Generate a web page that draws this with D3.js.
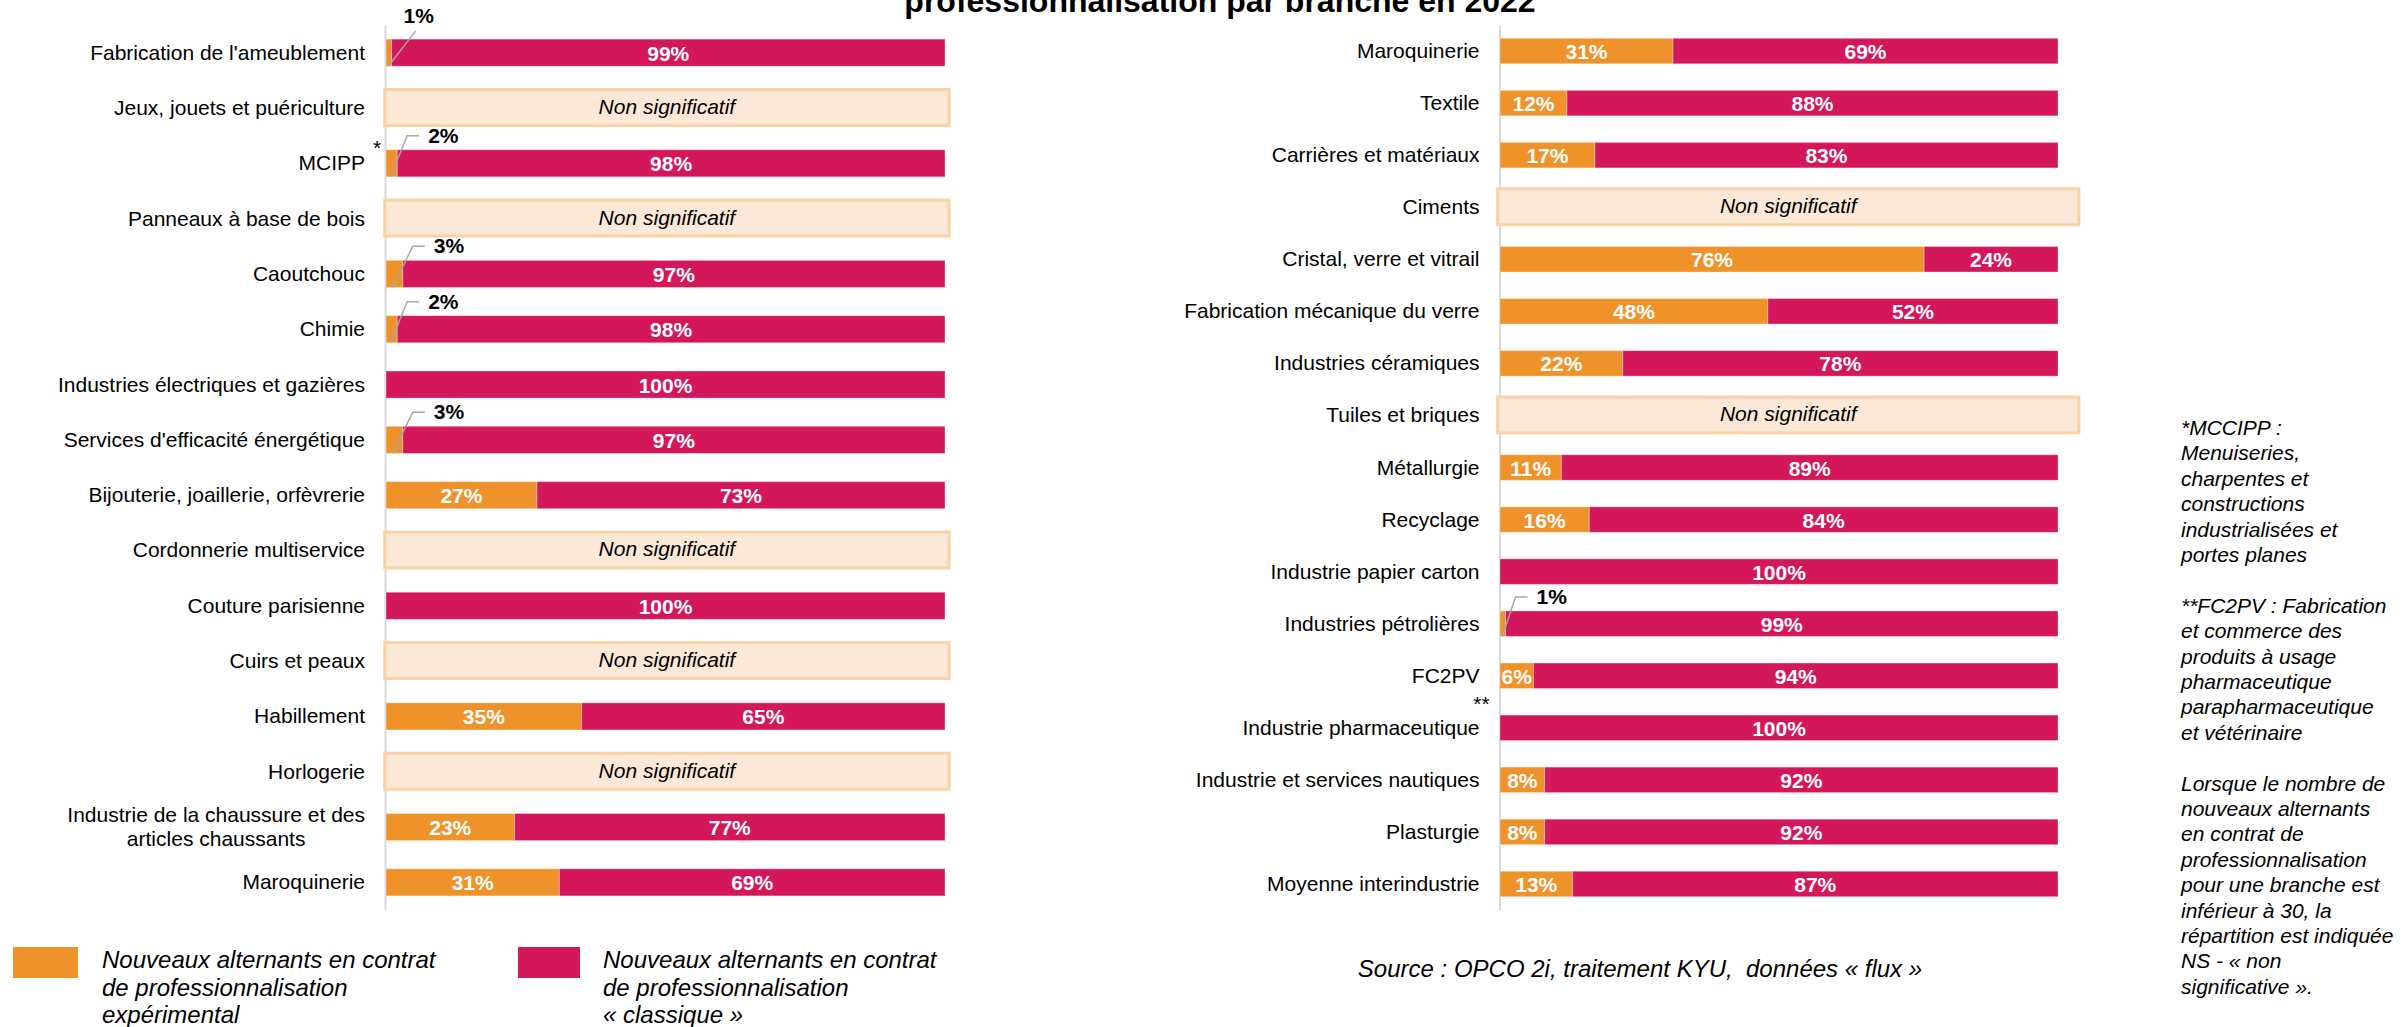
<!DOCTYPE html>
<html>
<head>
<meta charset="utf-8">
<script src="https://cdn.jsdelivr.net/npm/d3@7"></script>
<style>
  html, body { margin: 0; padding: 0; background: #fff; }
  svg { display: block; font-family: "Liberation Sans", Arial, sans-serif; }
</style>
</head>
<body>
<svg id="chart" width="2407" height="1027"></svg>
<script>
// ---------- DATA ----------
const leftCategories = [
  "Fabrication de l'ameublement",
  "Jeux, jouets et puériculture",
  "MCIPP",
  "Panneaux à base de bois",
  "Caoutchouc",
  "Chimie",
  "Industries électriques et gazières",
  "Services d'efficacité énergétique",
  "Bijouterie, joaillerie, orfèvrerie",
  "Cordonnerie multiservice",
  "Couture parisienne",
  "Cuirs et peaux",
  "Habillement",
  "Horlogerie",
  "Industrie de la chaussure et des\narticles chaussants",
  "Maroquinerie"
];
// null = "Non significatif"
const leftExperimental = [1, null, 2, null, 3, 2, 0, 3, 27, null, 0, null, 35, null, 23, 31];
const leftClassique    = [99, null, 98, null, 97, 98, 100, 97, 73, null, 100, null, 65, null, 77, 69];

const rightCategories = [
  "Maroquinerie",
  "Textile",
  "Carrières et matériaux",
  "Ciments",
  "Cristal, verre et vitrail",
  "Fabrication mécanique du verre",
  "Industries céramiques",
  "Tuiles et briques",
  "Métallurgie",
  "Recyclage",
  "Industrie papier carton",
  "Industries pétrolières",
  "FC2PV",
  "Industrie pharmaceutique",
  "Industrie et services nautiques",
  "Plasturgie",
  "Moyenne interindustrie"
];
const rightExperimental = [31, 12, 17, null, 76, 48, 22, null, 11, 16, 0, 1, 6, 0, 8, 8, 13];
const rightClassique    = [69, 88, 83, null, 24, 52, 78, null, 89, 84, 100, 99, 94, 100, 92, 92, 87];

const nsLabel = "Non significatif";
const titleText = "professionnalisation par branche en 2022";
const seriesNames = [
  ["Nouveaux alternants en contrat", "de professionnalisation", "expérimental"],
  ["Nouveaux alternants en contrat", "de professionnalisation", "« classique »"]
];
const sourceText = "Source : OPCO 2i, traitement KYU,  données « flux »";
const noteLines = [
  "*MCCIPP :", "Menuiseries,", "charpentes et", "constructions", "industrialisées et", "portes planes",
  "",
  "**FC2PV : Fabrication", "et commerce des", "produits à usage", "pharmaceutique", "parapharmaceutique", "et vétérinaire",
  "",
  "Lorsque le nombre de", "nouveaux alternants", "en contrat de", "professionnalisation", "pour une branche est",
  "inférieur à 30, la", "répartition est indiquée", "NS - « non", "significative »."
];

// ---------- STYLE ----------
const COL_EXP = "#F0922A";
const COL_CLA = "#D4165A";
const NS_FILL = "#FBE8D6";
const NS_STROKE = "#F9D2A6";
const AXIS_COL = "#D9D9D9";
const FONT = "\"Liberation Sans\", Arial, sans-serif";

const svg = d3.select("#chart");

// Title (first line is outside the visible frame in the reference)
svg.append("text")
  .attr("x", 1220).attr("y", 12)
  .attr("text-anchor", "middle")
  .attr("font-size", 32).attr("font-weight", "bold")
  .attr("fill", "#000")
  .text(titleText);

function drawPanel(cfg) {
  const { cats, exp, cla, axisX, x0, x1, nsExtent, barRatio, starMarks } = cfg;
  const g = svg.append("g");
  const x = d3.scaleLinear().domain([0, 100]).range([x0, x1]);
  const y = d3.scaleBand().domain(d3.range(cats.length)).range([25, 910]).paddingInner(0).paddingOuter(0);
  const bh = y.bandwidth() * barRatio;
  const cy = i => y(i) + y.bandwidth() / 2;

  // Axis with category labels
  const axis = d3.axisLeft(y).tickSize(0).tickSizeOuter(0).tickPadding(20).tickFormat(i => cats[i]);
  const ag = g.append("g").attr("transform", `translate(${axisX},0)`).call(axis);
  ag.select(".domain").attr("stroke", AXIS_COL).attr("stroke-width", 2);
  ag.selectAll(".tick text")
    .attr("font-family", FONT).attr("font-size", 21).attr("fill", "#000")
    .each(function(i) {
      const t = d3.select(this);
      const label = cats[i];
      if (label.includes("\n")) {
        const lines = label.split("\n");
        t.text(null).attr("dy", null);
        const tmp = t.append("tspan").text(lines[0]);
        const w = tmp.node().getComputedTextLength();
        tmp.remove();
        t.attr("text-anchor", "middle");
        lines.forEach((ln, k) => {
          t.append("tspan").attr("x", -20 - w / 2).attr("y", 0)
            .attr("dy", (k === 0 ? -5 : 19)).text(ln);
        });
      } else {
        t.attr("dy", null).attr("y", 7);
      }
    });

  const rows = cats.map((c, i) => ({ i, e: exp[i], c: cla[i] }));

  // NS boxes
  const ns = rows.filter(d => d.e === null);
  g.selectAll("rect.ns").data(ns).join("rect")
    .attr("class", "ns")
    .attr("x", x(nsExtent[0]) + 1.5)
    .attr("width", x(nsExtent[1]) - x(nsExtent[0]) - 3)
    .attr("y", d => cy(d.i) - 18.5)
    .attr("height", 36)
    .attr("fill", NS_FILL).attr("stroke", NS_STROKE).attr("stroke-width", 3);
  g.selectAll("text.ns").data(ns).join("text")
    .attr("class", "ns")
    .attr("x", (x(nsExtent[0]) + x(nsExtent[1])) / 2)
    .attr("y", d => cy(d.i) + 6)
    .attr("text-anchor", "middle").attr("font-size", 21).attr("font-style", "italic")
    .attr("fill", "#000").text(nsLabel);

  const valid = rows.filter(d => d.e !== null);
  // Bars
  g.selectAll("rect.exp").data(valid.filter(d => d.e > 0)).join("rect")
    .attr("class", "exp")
    .attr("x", x(0)).attr("width", d => x(d.e) - x(0))
    .attr("y", d => cy(d.i) - bh / 2).attr("height", bh)
    .attr("fill", COL_EXP).attr("stroke", "#fff").attr("stroke-opacity", 0.35).attr("stroke-width", 1);
  g.selectAll("rect.cla").data(valid).join("rect")
    .attr("class", "cla")
    .attr("x", d => x(d.e)).attr("width", d => x(d.e + d.c) - x(d.e))
    .attr("y", d => cy(d.i) - bh / 2).attr("height", bh)
    .attr("fill", COL_CLA).attr("stroke", "#fff").attr("stroke-opacity", 0.35).attr("stroke-width", 1);

  // Inside labels
  g.selectAll("text.vexp").data(valid.filter(d => d.e >= 5)).join("text")
    .attr("class", "vexp")
    .attr("x", d => (x(0) + x(d.e)) / 2).attr("y", d => cy(d.i) + 8)
    .attr("text-anchor", "middle").attr("font-size", 21).attr("font-weight", "bold")
    .attr("fill", "#fff").text(d => d.e + "%");
  g.selectAll("text.vcla").data(valid).join("text")
    .attr("class", "vcla")
    .attr("x", d => (x(d.e) + x(d.e + d.c)) / 2).attr("y", d => cy(d.i) + 8)
    .attr("text-anchor", "middle").attr("font-size", 21).attr("font-weight", "bold")
    .attr("fill", "#fff").text(d => d.c + "%");

  // Callouts for small values
  const small = valid.filter(d => d.e > 0 && d.e < 5);
  small.forEach(d => {
    const top = cy(d.i) - bh / 2;
    const bottom = cy(d.i) + bh / 2;
    const sx = x(d.e * 0.4);
    const ex = x(d.e) + 10;
    const ey = d.i === 0 ? top - 8 : top - 14;
    const path = d.i === 0
      ? `M${sx},${bottom}L${ex + 14},${ey}`
      : `M${sx},${bottom}L${ex},${ey}L${ex + 12},${ey}`;
    g.append("path").attr("d", path).attr("fill", "none")
      .attr("stroke", "#A6A6A6").attr("stroke-width", 1.5);
    g.append("text")
      .attr("x", d.i === 0 ? ex + 2 : ex + 21)
      .attr("y", d.i === 0 ? ey - 8 : ey + 7)
      .attr("font-size", 21).attr("font-weight", "bold").attr("fill", "#000")
      .text(d.e + "%");
  });

  // Footnote markers
  starMarks.forEach(s => {
    g.append("text")
      .attr("x", axisX - s.dx).attr("y", cy(s.i) + s.dy)
      .attr("text-anchor", "middle").attr("font-size", 21).attr("fill", "#000")
      .text(s.mark);
  });
}

drawPanel({
  cats: leftCategories, exp: leftExperimental, cla: leftClassique,
  axisX: 385, x0: 386, x1: 945, nsExtent: [-0.5, 101], barRatio: 0.49,
  starMarks: [{ i: 2, mark: "*", dx: 8, dy: -8 }]
});
drawPanel({
  cats: rightCategories, exp: rightExperimental, cla: rightClassique,
  axisX: 1499.5, x0: 1500, x1: 2058, nsExtent: [-0.7, 104], barRatio: 0.49,
  starMarks: [{ i: 12, mark: "**", dx: 18, dy: 35 }]
});

// Legend
const legend = svg.append("g");
const legendItems = [
  { color: COL_EXP, lines: seriesNames[0], rx: 13, rw: 65, tx: 102 },
  { color: COL_CLA, lines: seriesNames[1], rx: 518, rw: 62, tx: 603 }
];
legendItems.forEach(it => {
  legend.append("rect").attr("x", it.rx).attr("y", 947).attr("width", it.rw).attr("height", 31).attr("fill", it.color);
  const t = legend.append("text").attr("font-size", 24).attr("font-style", "italic").attr("fill", "#000");
  it.lines.forEach((ln, k) => {
    t.append("tspan").attr("x", it.tx).attr("y", 968 + k * 27.5).text(ln);
  });
});

// Source
svg.append("text")
  .attr("x", 1640).attr("y", 977)
  .attr("text-anchor", "middle").attr("font-size", 24).attr("font-style", "italic")
  .attr("fill", "#000").attr("xml:space", "preserve").style("white-space", "pre")
  .text(sourceText);

// Side notes
const notes = svg.append("text").attr("font-size", 21).attr("font-style", "italic").attr("fill", "#000");
noteLines.forEach((ln, k) => {
  notes.append("tspan").attr("x", 2181).attr("y", 435 + k * 25.4).text(ln || " ");
});
</script>
</body>
</html>
